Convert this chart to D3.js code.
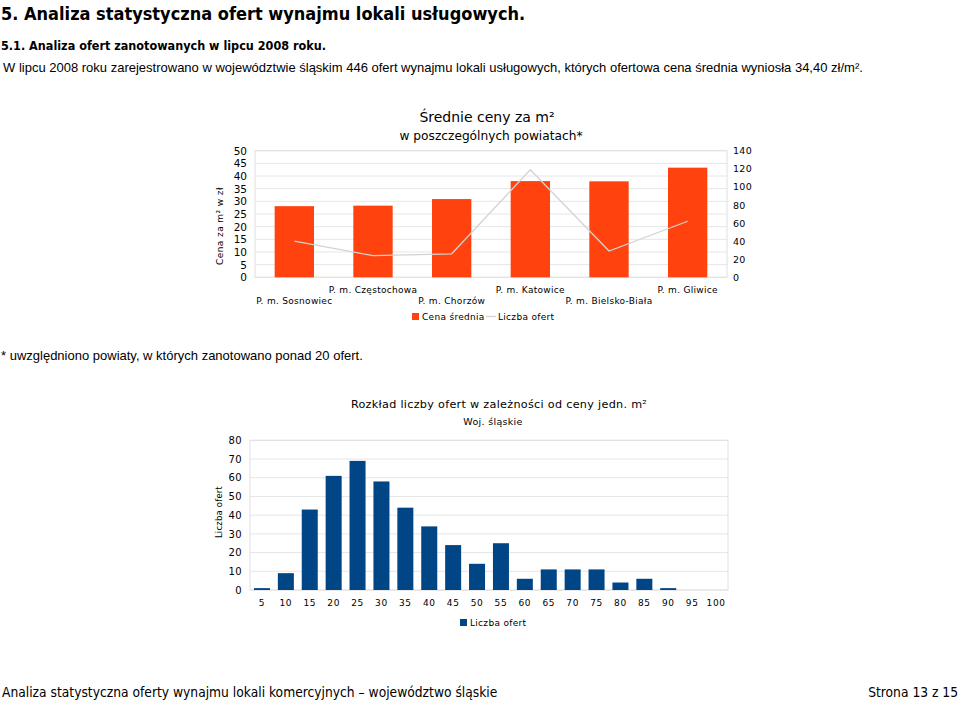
<!DOCTYPE html>
<html>
<head>
<meta charset="utf-8">
<script src="https://cdn.jsdelivr.net/npm/d3@7/dist/d3.min.js"></script>
<style>
  body { margin: 0; background: #fff; }
  svg { display: block; }
</style>
</head>
<body>
<div id="page"></div>
<script>
// chart 1: average price per m2 by powiat, with offer count line
const CATEGORIES = ["P. m. Sosnowiec", "P. m. Częstochowa", "P. m. Chorzów",
                    "P. m. Katowice", "P. m. Bielsko-Biała", "P. m. Gliwice"];
const PRICE = [28.1, 28.3, 30.9, 38.0, 37.9, 43.3];
const OFFERS = [40, 24, 26, 119, 29, 62];
const PRICE_TICKS = [0, 5, 10, 15, 20, 25, 30, 35, 40, 45, 50];
const OFFER_TICKS = [0, 20, 40, 60, 80, 100, 120, 140];

// chart 2: distribution of offers by price per m2
const BINS = ["5", "10", "15", "20", "25", "30", "35", "40", "45", "50",
              "55", "60", "65", "70", "75", "80", "85", "90", "95", "100"];
const BIN_COUNTS = [1, 9, 43, 61, 69, 58, 44, 34, 24, 14,
                    25, 6, 11, 11, 11, 4, 6, 1, 0, 0];
const COUNT_TICKS = [0, 10, 20, 30, 40, 50, 60, 70, 80];

const WIDTH = 960, HEIGHT = 701;
const CHART_FONT = "'DejaVu Sans', Verdana, sans-serif";
const COND_FONT = "'DejaVu Sans Condensed', 'DejaVu Sans', sans-serif";
const TEXT_FONT = "'Liberation Sans', Arial, sans-serif";
const ORANGE = "#ff420e";
const BLUE = "#004586";
const GRID = "#e6e6e6";

const svg = d3.select("#page").append("svg")
    .attr("width", WIDTH)
    .attr("height", HEIGHT);

// ---- page text ----
svg.append("text")
    .attr("x", 1).attr("y", 20)
    .attr("font-family", COND_FONT).attr("font-weight", "bold")
    .attr("font-size", 18).attr("fill", "#000")
    .text("5. Analiza statystyczna ofert wynajmu lokali usługowych.");

svg.append("text")
    .attr("x", 1).attr("y", 50)
    .attr("font-family", COND_FONT).attr("font-weight", "bold")
    .attr("font-size", 12.5).attr("fill", "#000")
    .text("5.1. Analiza ofert zanotowanych w lipcu 2008 roku.");

svg.append("text")
    .attr("x", 3).attr("y", 72)
    .attr("font-family", TEXT_FONT)
    .attr("font-size", 13).attr("fill", "#000")
    .text("W lipcu 2008 roku zarejestrowano w województwie śląskim 446 ofert wynajmu lokali usługowych, których ofertowa cena średnia wyniosła 34,40 zł/m².");

svg.append("text")
    .attr("x", 1).attr("y", 360)
    .attr("font-family", TEXT_FONT)
    .attr("font-size", 13).attr("fill", "#000")
    .text("* uwzględniono powiaty, w których zanotowano ponad 20 ofert.");

svg.append("text")
    .attr("x", 2).attr("y", 697)
    .attr("font-family", COND_FONT)
    .attr("font-size", 13.7).attr("fill", "#000")
    .text("Analiza statystyczna oferty wynajmu lokali komercyjnych – województwo śląskie");

svg.append("text")
    .attr("x", 958).attr("y", 697)
    .attr("text-anchor", "end")
    .attr("font-family", COND_FONT)
    .attr("font-size", 13.7).attr("fill", "#000")
    .text("Strona 13 z 15");

// style helper for axes
function styleAxis(g, size) {
  g.attr("font-family", CHART_FONT).attr("font-size", size);
  g.select(".domain").remove();
  g.selectAll(".tick line").remove();
  g.selectAll("text").attr("fill", "#000");
}

// ---- chart 1 ----
function build_price_chart() {
  const LEFT = 255, RIGHT = 727, TOP = 150.7, BOTTOM = 277.3;

  const X_SCALE = d3.scaleBand()
                    .domain(CATEGORIES)
                    .range([LEFT, RIGHT])
                    .paddingInner(0.5)
                    .paddingOuter(0.25);

  const Y_SCALE = d3.scaleLinear()
                    .domain([0, 50])
                    .range([BOTTOM, TOP]);

  const Y2_SCALE = d3.scaleLinear()
                     .domain([0, 140])
                     .range([BOTTOM, TOP]);

  // gridlines
  svg.append("g")
      .selectAll("line")
      .data(PRICE_TICKS)
      .enter()
      .append("line")
        .attr("x1", LEFT).attr("x2", RIGHT)
        .attr("y1", (d) => Y_SCALE(d)).attr("y2", (d) => Y_SCALE(d))
        .attr("stroke", GRID).attr("stroke-width", 1);

  // plot frame
  svg.append("rect")
      .attr("x", LEFT).attr("y", TOP)
      .attr("width", RIGHT - LEFT).attr("height", BOTTOM - TOP)
      .attr("fill", "none").attr("stroke", "#e0e0e0");

  // bars
  svg.append("g")
      .selectAll("rect")
      .data(PRICE)
      .enter()
      .append("rect")
        .attr("x", (d, i) => X_SCALE(CATEGORIES[i]))
        .attr("y", (d) => Y_SCALE(d))
        .attr("width", X_SCALE.bandwidth())
        .attr("height", (d) => BOTTOM - Y_SCALE(d))
        .attr("fill", ORANGE);

  // offers line
  const line = d3.line()
                 .x((d, i) => X_SCALE(CATEGORIES[i]) + X_SCALE.bandwidth() / 2)
                 .y((d) => Y2_SCALE(d));

  svg.append("path")
      .datum(OFFERS)
      .attr("d", line)
      .attr("fill", "none")
      .attr("stroke", "#d3d3d3")
      .attr("stroke-width", 1.3);

  // left axis
  svg.append("g")
      .attr("transform", "translate(" + LEFT + ",0)")
      .call(d3.axisLeft(Y_SCALE).tickValues(PRICE_TICKS).tickSize(0).tickPadding(8))
      .call((g) => styleAxis(g, 10.5));

  // right axis
  svg.append("g")
      .attr("transform", "translate(" + RIGHT + ",0)")
      .call(d3.axisRight(Y2_SCALE).tickValues(OFFER_TICKS).tickSize(0).tickPadding(6))
      .call((g) => styleAxis(g, 9.5))
      .selectAll("text").attr("letter-spacing", 0.3);

  // category axis, labels staggered on two rows
  const xAxis = svg.append("g")
      .attr("transform", "translate(0," + BOTTOM + ")")
      .call(d3.axisBottom(X_SCALE).tickSize(0))
      .call((g) => styleAxis(g, 9));
  xAxis.selectAll("text")
      .attr("dy", null)
      .attr("letter-spacing", 0.3)
      .attr("y", (d, i) => (i % 2 === 1 ? 16 : 26.5));

  // axis title
  svg.append("text")
      .attr("transform", "translate(223,226) rotate(-90)")
      .attr("text-anchor", "middle")
      .attr("font-family", CHART_FONT).attr("font-size", 9)
      .attr("letter-spacing", 0.4)
      .text("Cena za m² w zł");

  // titles
  svg.append("text")
      .attr("x", 487).attr("y", 122)
      .attr("text-anchor", "middle")
      .attr("font-family", CHART_FONT).attr("font-size", 14)
      .text("Średnie ceny za m²");

  svg.append("text")
      .attr("x", 491).attr("y", 140)
      .attr("text-anchor", "middle")
      .attr("font-family", CHART_FONT).attr("font-size", 12.2)
      .text("w poszczególnych powiatach*");

  // legend
  const legend = svg.append("g").attr("font-family", CHART_FONT).attr("font-size", 9);
  legend.append("rect")
      .attr("x", 412).attr("y", 313)
      .attr("width", 7).attr("height", 7)
      .attr("fill", ORANGE);
  legend.append("text")
      .attr("x", 422).attr("y", 320)
      .attr("letter-spacing", 0.3)
      .text("Cena średnia");
  legend.append("line")
      .attr("x1", 486).attr("x2", 496)
      .attr("y1", 316.5).attr("y2", 316.5)
      .attr("stroke", "#d3d3d3").attr("stroke-width", 1.3);
  legend.append("text")
      .attr("x", 498).attr("y", 320)
      .attr("letter-spacing", 0.3)
      .text("Liczba ofert");
}

// ---- chart 2 ----
function build_distribution_chart() {
  const LEFT = 250, RIGHT = 728, TOP = 440.3, BOTTOM = 590;

  const X_SCALE = d3.scaleBand()
                    .domain(BINS)
                    .range([LEFT, RIGHT])
                    .paddingInner(0.33)
                    .paddingOuter(0.165);

  const Y_SCALE = d3.scaleLinear()
                    .domain([0, 80])
                    .range([BOTTOM, TOP]);

  svg.append("g")
      .selectAll("line")
      .data(COUNT_TICKS)
      .enter()
      .append("line")
        .attr("x1", LEFT).attr("x2", RIGHT)
        .attr("y1", (d) => Y_SCALE(d)).attr("y2", (d) => Y_SCALE(d))
        .attr("stroke", GRID).attr("stroke-width", 1);

  svg.append("rect")
      .attr("x", LEFT).attr("y", TOP)
      .attr("width", RIGHT - LEFT).attr("height", BOTTOM - TOP)
      .attr("fill", "none").attr("stroke", "#e0e0e0");

  svg.append("g")
      .selectAll("rect")
      .data(BIN_COUNTS)
      .enter()
      .append("rect")
        .attr("x", (d, i) => X_SCALE(BINS[i]))
        .attr("y", (d) => Y_SCALE(d))
        .attr("width", X_SCALE.bandwidth())
        .attr("height", (d) => BOTTOM - Y_SCALE(d))
        .attr("fill", BLUE);

  svg.append("g")
      .attr("transform", "translate(" + LEFT + ",0)")
      .call(d3.axisLeft(Y_SCALE).tickValues(COUNT_TICKS).tickSize(0).tickPadding(8))
      .call((g) => styleAxis(g, 10))
      .selectAll("text").attr("letter-spacing", 0.4);

  const xAxis = svg.append("g")
      .attr("transform", "translate(0," + BOTTOM + ")")
      .call(d3.axisBottom(X_SCALE).tickSize(0))
      .call((g) => styleAxis(g, 9));
  xAxis.selectAll("text")
      .attr("dy", null)
      .attr("letter-spacing", 0.6)
      .attr("y", 15.5);

  svg.append("text")
      .attr("transform", "translate(222,512) rotate(-90)")
      .attr("text-anchor", "middle")
      .attr("font-family", CHART_FONT).attr("font-size", 8.5)
      .attr("letter-spacing", 0.2)
      .text("Liczba ofert");

  svg.append("text")
      .attr("x", 499).attr("y", 408)
      .attr("text-anchor", "middle")
      .attr("font-family", CHART_FONT).attr("font-size", 11.2)
      .attr("letter-spacing", 0.3)
      .text("Rozkład liczby ofert  w zależności od ceny jedn. m²");

  svg.append("text")
      .attr("x", 493).attr("y", 425)
      .attr("text-anchor", "middle")
      .attr("font-family", CHART_FONT).attr("font-size", 9.5)
      .attr("letter-spacing", 0.3)
      .text("Woj. śląskie");

  const legend = svg.append("g").attr("font-family", CHART_FONT).attr("font-size", 9);
  legend.append("rect")
      .attr("x", 460).attr("y", 619)
      .attr("width", 7).attr("height", 7)
      .attr("fill", BLUE);
  legend.append("text")
      .attr("x", 470).attr("y", 626)
      .attr("letter-spacing", 0.3)
      .text("Liczba ofert");
}

build_price_chart();
build_distribution_chart();
</script>
</body>
</html>
